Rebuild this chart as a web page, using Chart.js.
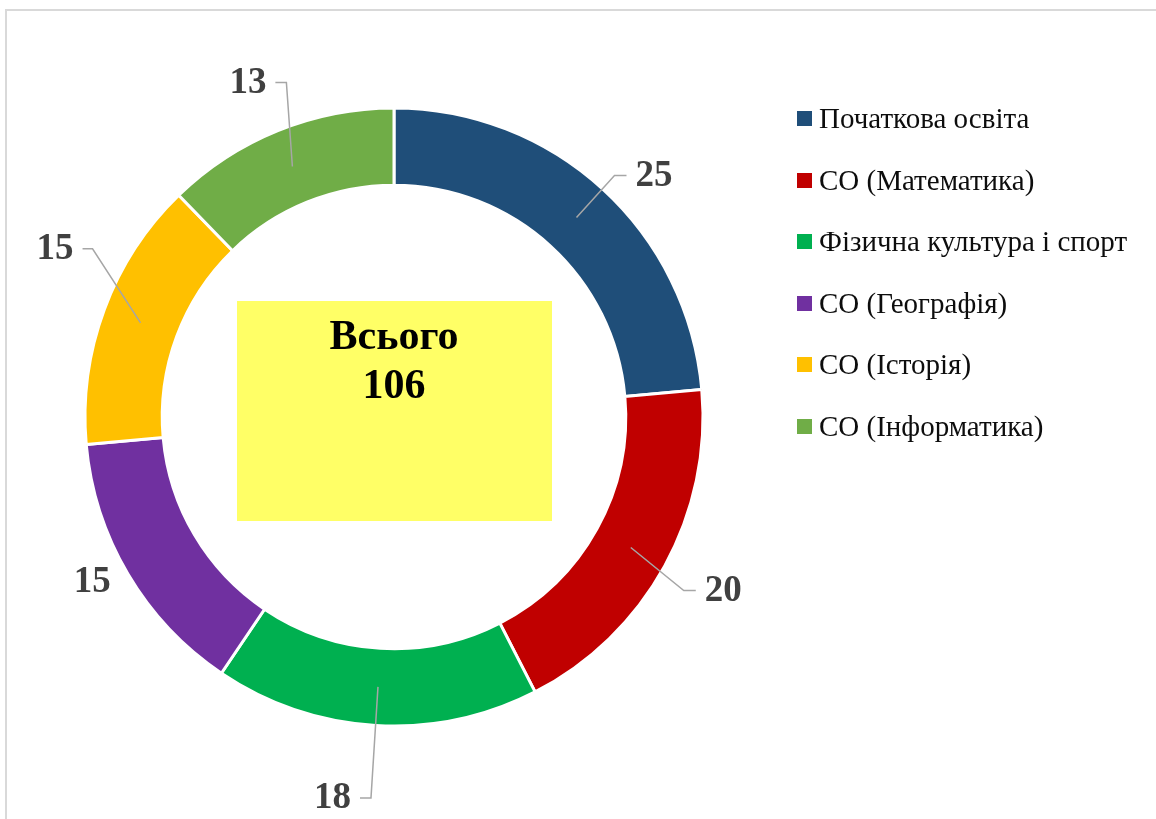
<!DOCTYPE html>
<html lang="uk">
<head>
<meta charset="utf-8">
<title>Всього 106</title>
<script src="https://cdn.jsdelivr.net/npm/chart.js@4.4.0/dist/chart.umd.min.js"></script>
<style>
    html, body { margin: 0; padding: 0; background: #fff; }
    #wrap { position: relative; width: 1156px; height: 819px; overflow: hidden; }
    #frame {
        position: absolute; left: 5px; top: 9px; width: 1200px; height: 900px;
        border-left: 2px solid #d9d9d9; border-top: 2px solid #d9d9d9;
    }
    #grafico { position: absolute; left: 0; top: 0; }
    #legenda {
        position: absolute; left: 797px; top: 0;
        font-family: 'Liberation Serif', 'Times New Roman', serif;
        font-size: 29px; color: #0d0d0d;
    }
    .item { position: absolute; left: 0; white-space: nowrap; display: flex; align-items: center; }
    .item span.box { width: 15px; height: 15px; margin-right: 7px; display: inline-block; }
</style>
</head>
<body>
<div id="wrap">
    <div id="frame"></div>
    <canvas id="grafico" width="1156" height="819"></canvas>
    <div id="legenda"></div>
</div>

<script>
const categorias = [
    'Початкова освіта',
    'СО (Математика)',
    'Фізична культура і спорт',
    'СО (Географія)',
    'СО (Історія)',
    'СО (Інформатика)'
];
const valores = [25, 20, 18, 15, 15, 13];
const cores = ['#1f4e79', '#c00000', '#00b050', '#7030a0', '#ffc000', '#70ad47'];
const totalTexto = ['Всього', '106'];

// posicao dos rotulos em relacao ao meio do anel (estilo do Excel)
const posRotulos = [
    { cotovelo: [38, -42], cauda: 12, alinhar: 'left' },
    { cotovelo: [53, 43], cauda: 12, alinhar: 'left' },
    { cotovelo: [-7, 111], cauda: -11, alinhar: 'right' },
    { texto: [-69, 28] },
    { cotovelo: [-48, -74], cauda: -10, alinhar: 'right' },
    { cotovelo: [-6, -84], cauda: -11, alinhar: 'right' }
];

// legenda em html
const legenda = document.getElementById('legenda');
const linhasY = [118.5, 180, 241.5, 303, 364.5, 426];
legenda.innerHTML = categorias.map((cat, i) => `
    <div class="item" style="top:${linhasY[i] - 18}px;height:36px;">
        <span class="box" style="background:${cores[i]}"></span>${cat}
    </div>`).join('');

const centroPlugin = {
    id: 'centro',
    beforeDatasetsDraw(chart) {
        const arc = chart.getDatasetMeta(0).data[0];
        if (!arc) return;
        const ctx = chart.ctx;
        ctx.save();
        ctx.fillStyle = '#ffff66';
        ctx.fillRect(arc.x - 157, arc.y - 116, 315, 220);
        ctx.fillStyle = '#000';
        ctx.font = 'bold 42px "Liberation Serif"';
        ctx.textAlign = 'center';
        ctx.textBaseline = 'middle';
        ctx.fillText(totalTexto[0], arc.x, arc.y - 79);
        ctx.fillText(totalTexto[1], arc.x, arc.y - 30);
        ctx.restore();
    }
};

const rotulosPlugin = {
    id: 'rotulos',
    afterDatasetsDraw(chart) {
        const ctx = chart.ctx;
        const arcos = chart.getDatasetMeta(0).data;
        ctx.save();
        ctx.font = 'bold 37px "Liberation Serif"';
        ctx.textBaseline = 'middle';
        arcos.forEach((arc, i) => {
            const p = arc.getProps(['x', 'y', 'startAngle', 'endAngle', 'innerRadius', 'outerRadius'], true);
            const meio = (p.startAngle + p.endAngle) / 2;
            const r = (p.innerRadius + p.outerRadius) / 2;
            const ax = p.x + Math.cos(meio) * r;
            const ay = p.y + Math.sin(meio) * r;
            const cfg = posRotulos[i];
            ctx.fillStyle = '#404040';
            if (cfg.texto) {
                ctx.textAlign = 'center';
                ctx.fillText(valores[i], ax + cfg.texto[0], ay + cfg.texto[1]);
                return;
            }
            const ex = ax + cfg.cotovelo[0];
            const ey = ay + cfg.cotovelo[1];
            const fx = ex + cfg.cauda;
            ctx.strokeStyle = '#a6a6a6';
            ctx.lineWidth = 1.5;
            ctx.beginPath();
            ctx.moveTo(ax, ay);
            ctx.lineTo(ex, ey);
            ctx.lineTo(fx, ey);
            ctx.stroke();
            ctx.textAlign = cfg.alinhar;
            const gap = cfg.alinhar === 'left' ? 9 : -9;
            ctx.fillText(valores[i], fx + gap, ey + 1);
        });
        ctx.restore();
    }
};

new Chart(document.getElementById('grafico'), {
    type: 'doughnut',
    data: {
        labels: categorias,
        datasets: [{
            data: valores,
            backgroundColor: cores,
            borderColor: '#ffffff',
            borderWidth: 3
        }]
    },
    options: {
        responsive: false,
        animation: false,
        cutout: '75%',
        layout: {
            padding: { left: 83.5, top: 106.5, right: 451.5, bottom: 91.5 }
        },
        plugins: {
            legend: { display: false },
            tooltip: { enabled: false }
        }
    },
    plugins: [centroPlugin, rotulosPlugin]
});
</script>
</body>
</html>
